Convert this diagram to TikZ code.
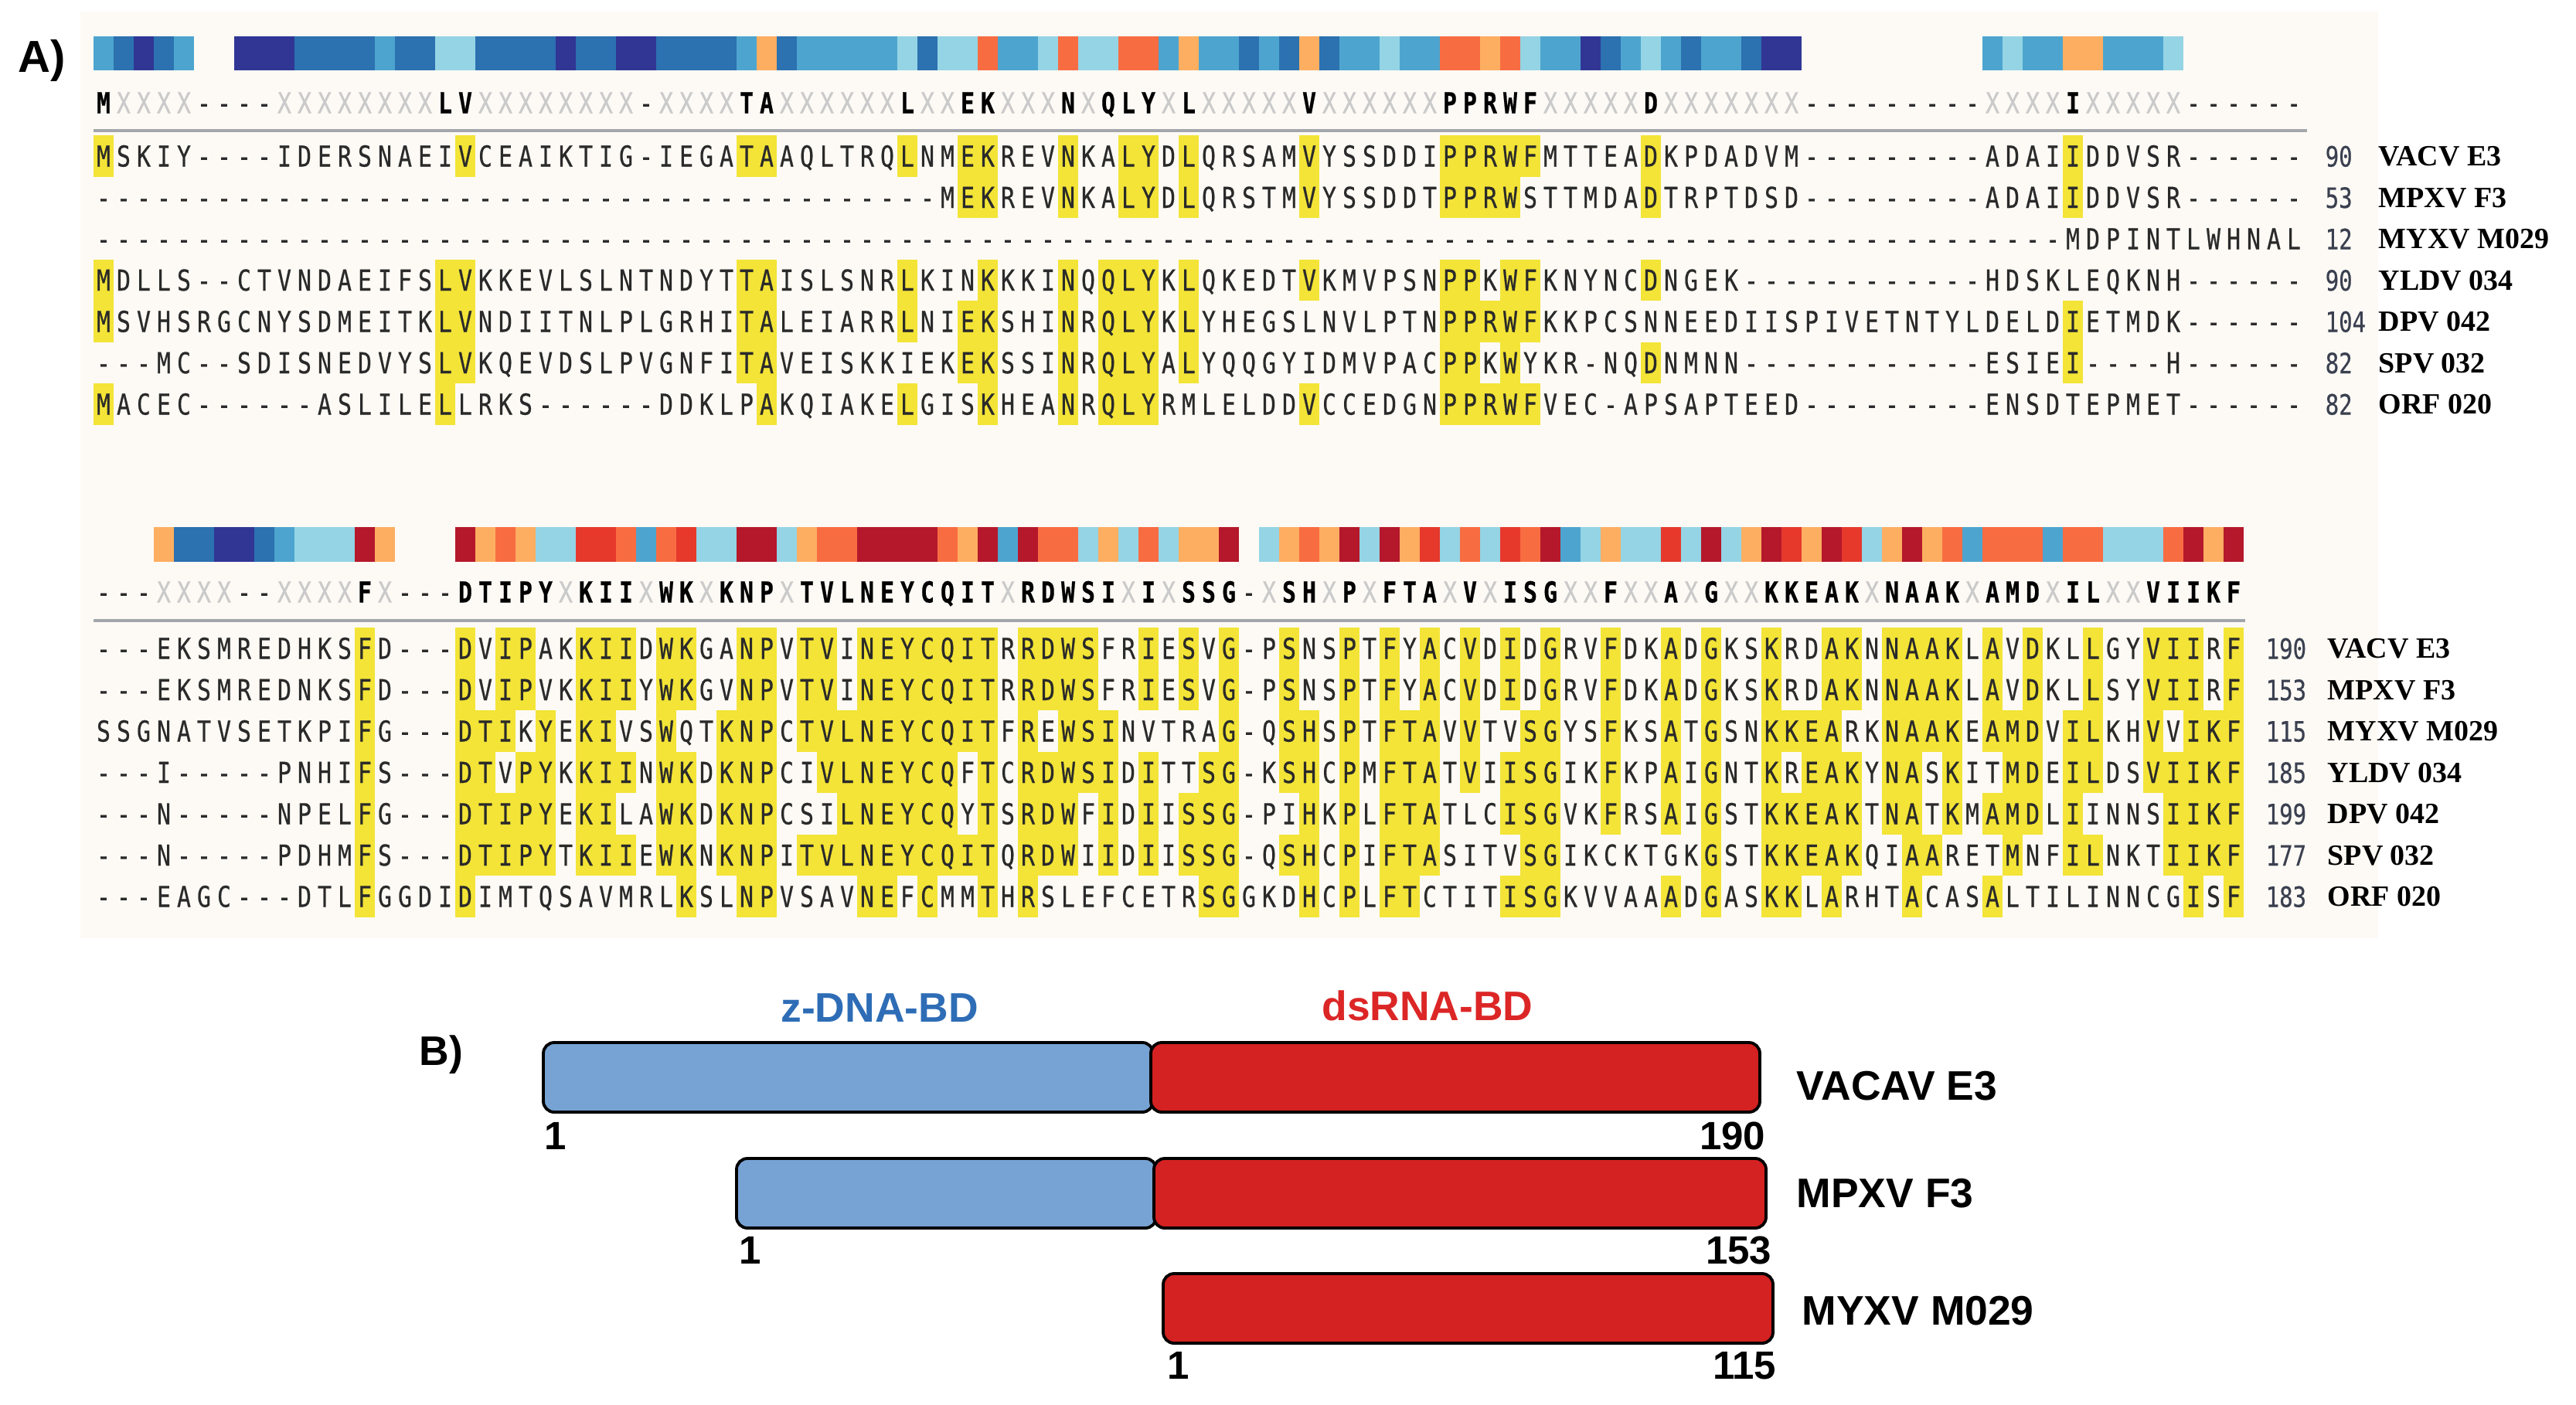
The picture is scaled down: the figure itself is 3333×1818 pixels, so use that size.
\documentclass[tikz,border=0pt]{standalone}
\usepackage{fontspec}
\setmainfont{Liberation Sans}
\newfontfamily\seqfont[FakeStretch=0.80,FakeBold=0.5]{DejaVu Sans Mono}
\newfontfamily\labfont{Liberation Serif}

\definecolor{barN}{HTML}{313695}
\definecolor{barB}{HTML}{2C71B0}
\definecolor{barL}{HTML}{4DA5CF}
\definecolor{barC}{HTML}{94D4E5}
\definecolor{barO}{HTML}{FDAE61}
\definecolor{barR}{HTML}{F86C42}
\definecolor{barE}{HTML}{E6392C}
\definecolor{barD}{HTML}{B5182B}
\definecolor{hlyellow}{HTML}{F3E437}
\definecolor{cream}{HTML}{FDFAF5}
\definecolor{restxt}{HTML}{2A2A2A}
\definecolor{numtxt}{HTML}{3B4050}
\definecolor{xgray}{HTML}{CACACA}
\definecolor{sepgray}{HTML}{A3A7AC}
\definecolor{boxblue}{HTML}{76A3D4}
\definecolor{boxred}{HTML}{D42121}
\definecolor{lblblue}{HTML}{2E6DB6}
\definecolor{lblred}{HTML}{DC2626}

\newcount\colidx
\def\xorig{121}
% one aligned row: #1 row id, #2 y centre, #3 sequence, #4 consensus, #5 pass (h = highlight, t = text)
\newcommand\seqrow[5]{%
  \colidx=0 \def\currow{#1}\def\ry{#2}\def\curmode{#5}%
  \seqloop#3\relax#4\relax}
\def\seqloop#1#2\relax#3#4\relax{%
  \advance\colidx by 1
  \seqcell#1#3%
  \ifx\relax#2\relax\else\ifx\relax#4\relax\else\seqloop#2\relax#4\relax\fi\fi}
\def\seqcell#1#2{%
  \pgfmathsetmacro\cx{\xorig+(\the\colidx-0.5)*26}%
  \if h\curmode
    \ifx#1#2\ifx#2-\else
      \fill[hlyellow] (\cx-13.4,\ry-26.95) rectangle (\cx+13.4,\ry+26.95);
    \fi\fi
  \else
    \node[seqch] (s\curblk-\currow-\the\colidx) at (\cx,\ry+13.5) {#1};
  \fi}
% consensus row
\newcommand\consrow[2]{\colidx=0 \def\ry{#1}\consloop#2\relax}
\def\consloop#1#2\relax{%
  \advance\colidx by 1
  \conscell#1%
  \ifx\relax#2\relax\else\consloop#2\relax\fi}
\def\conscell#1{%
  \pgfmathsetmacro\cx{\xorig+(\the\colidx-0.5)*26}%
  \ifx X#1\node[consx] (c\curblk-\the\colidx) at (\cx,\ry+13.5) {X};%
  \else\ifx -#1\node[seqch] (c\curblk-\the\colidx) at (\cx,\ry+13.5) {-};%
  \else\node[consl] (c\curblk-\the\colidx) at (\cx,\ry+13.5) {#1};\fi\fi}
% colour bar
\newcommand\barrow[3]{\colidx=0 \def\ytop{#1}\def\ybot{#2}\barloop#3\relax}
\def\barloop#1#2\relax{%
  \advance\colidx by 1
  \barcell#1%
  \ifx\relax#2\relax\else\barloop#2\relax\fi}
\def\barcell#1{%
  \ifx.#1\else
    \pgfmathsetmacro\bx{\xorig+(\the\colidx-1)*26}%
    \fill[bar#1] (\bx-0.3,\ytop) rectangle (\bx+26.3,\ybot);
  \fi}

\begin{document}
\begin{tikzpicture}[x=0.01cm,y=-0.01cm,
  seqch/.style={anchor=base,inner sep=0pt,outer sep=0pt,font=\seqfont\fontsize{10.6}{12}\selectfont,text=restxt},
  consx/.style={seqch,text=xgray},
  consl/.style={seqch,font=\seqfont\bfseries\fontsize{10.6}{12}\selectfont,text=black},
  rowlab/.style={anchor=base west,inner sep=0pt,font=\labfont\bfseries\fontsize{10.8}{12}\selectfont,text=black},
  rownum/.style={anchor=base west,inner sep=0pt,font=\seqfont\fontsize{10.3}{12}\selectfont,text=numtxt},
  boxline/.style={line width=1.1pt,rounded corners=4pt,draw=black},
  bigbold/.style={inner sep=0pt,font=\bfseries\fontsize{15.2}{18}\selectfont},
  posnum/.style={inner sep=0pt,font=\bfseries\fontsize{14.5}{16}\selectfont},
  ]
\useasboundingbox (0,0) rectangle (3333,1818);
\fill[white] (0,0) rectangle (3333,1818);
\fill[cream] (104,15) rectangle (3077,1214);

\node[inner sep=0pt,anchor=base west,font=\bfseries\fontsize{16.5}{18}\selectfont] (alab) at (23,93) {A)};

% ---------------- block 1 ----------------
\def\curblk{1}
\def\consA{MXXXX----XXXXXXXXLVXXXXXXXX-XXXXTAXXXXXXLXXEKXXXNXQLYXLXXXXXVXXXXXXPPRWFXXXXXDXXXXXXX---------XXXXIXXXXX------}
\barrow{47}{91}{LBNBL..NNNBBBBLBBCCBBBBNBBNNBBBBLOBLLLLLCBCCRLLCRCCRRLOLLBLBOBLLCLLRRORCLLNBLCLBLLBNN.........LCLLOOLLLC......}
\expandafter\consrow\expandafter{\expandafter1\expandafter3\expandafter3\expandafter}\expandafter{\consA}
\draw[sepgray,line width=1.4pt] (121,169) -- (2985,169);

\def\rowA{MSKIY----IDERSNAEIVCEAIKTIG-IEGATAAQLTRQLNMEKREVNKALYDLQRSAMVYSSDDIPPRWFMTTEADKPDADVM---------ADAIIDDVSR------}
\def\rowB{------------------------------------------MEKREVNKALYDLQRSTMVYSSDDTPPRWSTTMDADTRPTDSD---------ADAIIDDVSR------}
\def\rowC{--------------------------------------------------------------------------------------------------MDPINTLWHNAL}
\def\rowD{MDLLS--CTVNDAEIFSLVKKEVLSLNTNDYTTAISLSNRLKINKKKINQQLYKLQKEDTVKMVPSNPPKWFKNYNCDNGEK------------HDSKLEQKNH------}
\def\rowE{MSVHSRGCNYSDMEITKLVNDIITNLPLGRHITALEIARRLNIEKSHINRQLYKLYHEGSLNVLPTNPPRWFKKPCSNNEEDIISPIVETNTYLDELDIETMDK------}
\def\rowF{---MC--SDISNEDVYSLVKQEVDSLPVGNFITAVEISKKIEKEKSSINRQLYALYQQGYIDMVPACPPKWYKR-NQDNMNN------------ESIEI----H------}
\def\rowG{MACEC------ASLILELLRKS------DDKLPAKQIAKELGISKHEANRQLYRMLELDDVCCEDGNPPRWFVEC-APSAPTEED---------ENSDTEPMET------}

\newcommand\runrow[4]{% id, y, seq macro, cons macro
  \edef\tmp{\noexpand\seqrow{#1}{#2}{#3}{#4}{h}}\tmp
  \edef\tmp{\noexpand\seqrow{#1}{#2}{#3}{#4}{t}}\tmp}

\runrow{1}{202}{\rowA}{\consA}
\runrow{2}{255.5}{\rowB}{\consA}
\runrow{3}{309}{\rowC}{\consA}
\runrow{4}{362.5}{\rowD}{\consA}
\runrow{5}{416}{\rowE}{\consA}
\runrow{6}{469.5}{\rowF}{\consA}
\runrow{7}{523}{\rowG}{\consA}

\node[rownum] (n1a) at (3008,215.5) {90};
\node[rownum] (n1b) at (3008,269) {53};
\node[rownum] (n1c) at (3008,322.5) {12};
\node[rownum] (n1d) at (3008,376) {90};
\node[rownum] (n1e) at (3008,429.5) {104};
\node[rownum] (n1f) at (3008,483) {82};
\node[rownum] (n1g) at (3008,536.5) {82};
\node[rowlab] (l1a) at (3077,214.5) {VACV E3};
\node[rowlab] (l1b) at (3077,268) {MPXV F3};
\node[rowlab] (l1c) at (3077,321.5) {MYXV M029};
\node[rowlab] (l1d) at (3077,375) {YLDV 034};
\node[rowlab] (l1e) at (3077,428.5) {DPV 042};
\node[rowlab] (l1f) at (3077,482) {SPV 032};
\node[rowlab] (l1g) at (3077,535.5) {ORF 020};

% ---------------- block 2 ----------------
\def\curblk{2}
\def\consB{---XXXX--XXXXFX---DTIPYXKIIXWKXKNPXTVLNEYCQITXRDWSIXIXSSG-XSHXPXFTAXVXISGXXFXXAXGXXKKEAKXNAAKXAMDXILXXVIIKF}
\barrow{682}{727}{...OBBNNBLCCCDO...DOROCCEERLRECCDDCORRDDDDRODLDRRCOCRCOOD.CORODCDOECRCERDLCOCCECDCODEODECODORLRRRLRRCCCRDOD}
\expandafter\consrow\expandafter{\expandafter7\expandafter6\expandafter6\expandafter}\expandafter{\consB}
\draw[sepgray,line width=1.4pt] (121,803) -- (2905,803);

\def\rowA{---EKSMREDHKSFD---DVIPAKKIIDWKGANPVTVINEYCQITRRDWSFRIESVG-PSNSPTFYACVDIDGRVFDKADGKSKRDAKNNAAKLAVDKLLGYVIIRF}
\def\rowB{---EKSMREDNKSFD---DVIPVKKIIYWKGVNPVTVINEYCQITRRDWSFRIESVG-PSNSPTFYACVDIDGRVFDKADGKSKRDAKNNAAKLAVDKLLSYVIIRF}
\def\rowC{SSGNATVSETKPIFG---DTIKYEKIVSWQTKNPCTVLNEYCQITFREWSINVTRAG-QSHSPTFTAVVTVSGYSFKSATGSNKKEARKNAAKEAMDVILKHVVIKF}
\def\rowD{---I-----PNHIFS---DTVPYKKIINWKDKNPCIVLNEYCQFTCRDWSIDITTSG-KSHCPMFTATVIISGIKFKPAIGNTKREAKYNASKITMDEILDSVIIKF}
\def\rowE{---N-----NPELFG---DTIPYEKILAWKDKNPCSILNEYCQYTSRDWFIDIISSG-PIHKPLFTATLCISGVKFRSAIGSTKKEAKTNATKMAMDLIINNSIIKF}
\def\rowF{---N-----PDHMFS---DTIPYTKIIEWKNKNPITVLNEYCQITQRDWIIDIISSG-QSHCPIFTASITVSGIKCKTGKGSTKKEAKQIAARETMNFILNKTIIKF}
\def\rowG{---EAGC---DTLFGGDIDIMTQSAVMRLKSLNPVSAVNEFCMMTHRSLEFCETRSGGKDHCPLFTCTITISGKVVAAADGASKKLARHTACASALTILINNCGISF}

\runrow{1}{839}{\rowA}{\consB}
\runrow{2}{892.5}{\rowB}{\consB}
\runrow{3}{946}{\rowC}{\consB}
\runrow{4}{999.5}{\rowD}{\consB}
\runrow{5}{1053}{\rowE}{\consB}
\runrow{6}{1106.5}{\rowF}{\consB}
\runrow{7}{1160}{\rowG}{\consB}

\node[rownum] (n2a) at (2931,852.5) {190};
\node[rownum] (n2b) at (2931,906) {153};
\node[rownum] (n2c) at (2931,959.5) {115};
\node[rownum] (n2d) at (2931,1013) {185};
\node[rownum] (n2e) at (2931,1066.5) {199};
\node[rownum] (n2f) at (2931,1120) {177};
\node[rownum] (n2g) at (2931,1173.5) {183};
\node[rowlab] (l2a) at (3011,851.5) {VACV E3};
\node[rowlab] (l2b) at (3011,905) {MPXV F3};
\node[rowlab] (l2c) at (3011,958.5) {MYXV M029};
\node[rowlab] (l2d) at (3011,1012) {YLDV 034};
\node[rowlab] (l2e) at (3011,1065.5) {DPV 042};
\node[rowlab] (l2f) at (3011,1119) {SPV 032};
\node[rowlab] (l2g) at (3011,1172.5) {ORF 020};

% ---------------- panel B ----------------
\node[bigbold,anchor=base west] (blab) at (542,1378) {B)};
\node[bigbold,anchor=base,text=lblblue] (zdna) at (1138,1322) {z-DNA-BD};
\node[bigbold,anchor=base,text=lblred] (dsrna) at (1847,1320) {dsRNA-BD};

\draw[boxline,fill=boxblue] (703,1349) rectangle (1492,1439);
\draw[boxline,fill=boxred] (1489,1349) rectangle (2277,1439);
\draw[boxline,fill=boxblue] (953,1499) rectangle (1496,1589);
\draw[boxline,fill=boxred] (1493,1499) rectangle (2285,1589);
\draw[boxline,fill=boxred] (1505,1648) rectangle (2294,1738);

\node[bigbold,anchor=base west] (nvac) at (2324,1423) {VACAV E3};
\node[bigbold,anchor=base west] (nmpx) at (2324,1562) {MPXV F3};
\node[bigbold,anchor=base west] (nmyx) at (2331,1714) {MYXV M029};

\node[posnum,anchor=base west] (p1a) at (704,1487) {1};
\node[posnum,anchor=base east] (p1b) at (2285,1487) {190};
\node[posnum,anchor=base west] (p2a) at (956,1635) {1};
\node[posnum,anchor=base east] (p2b) at (2293,1635) {153};
\node[posnum,anchor=base west] (p3a) at (1510,1784) {1};
\node[posnum,anchor=base east] (p3b) at (2299,1784) {115};
\end{tikzpicture}
\end{document}
